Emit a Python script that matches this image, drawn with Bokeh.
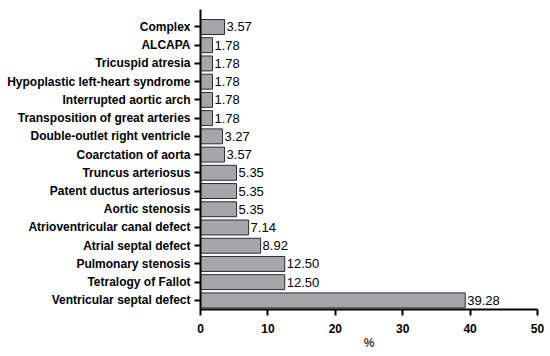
from bokeh.plotting import figure
from bokeh.models import ColumnDataSource, FixedTicker, Range1d, LabelSet
from bokeh.core.properties import value
from bokeh.embed import file_html
from bokeh.resources import INLINE

categories = [
    "Ventricular septal defect",
    "Tetralogy of Fallot",
    "Pulmonary stenosis",
    "Atrial septal defect",
    "Atrioventricular canal defect",
    "Aortic stenosis",
    "Patent ductus arteriosus",
    "Truncus arteriosus",
    "Coarctation of aorta",
    "Double-outlet right ventricle",
    "Transposition of great arteries",
    "Interrupted aortic arch",
    "Hypoplastic left-heart syndrome",
    "Tricuspid atresia",
    "ALCAPA",
    "Complex",
]
values = [39.28, 12.50, 12.50, 8.92, 7.14, 5.35, 5.35, 5.35, 3.57, 3.27,
          1.78, 1.78, 1.78, 1.78, 1.78, 3.57]
x_ticks = [0, 10, 20, 30, 40, 50]

pos = list(range(len(categories)))
src = ColumnDataSource(dict(
    y=pos, v=values, cat=categories,
    lab=[f"{v:.2f}" for v in values],
))

p = figure(width=546, height=356, output_backend="svg", toolbar_location=None,
           x_range=Range1d(0, 50), y_range=Range1d(-0.5, 15.96),
           min_border_left=200, min_border_top=9, min_border_right=9,
           min_border_bottom=47)
p.outline_line_color = None
p.grid.grid_line_color = None
p.background_fill_color = "white"
p.border_fill_color = "white"

p.hbar(y="y", right="v", left=0, height=0.82, source=src,
       fill_color="#a6a6aa", line_color="#2b2b2b", line_width=1)

font = "Liberation Sans"
labels = LabelSet(x="v", y="y", text="lab", source=src, x_offset=2,
                  text_font=value(font), text_font_size=value("13px"),
                  text_color="black", text_baseline="middle", text_align="left")
p.add_layout(labels)

p.xaxis.ticker = FixedTicker(ticks=x_ticks)
p.xaxis.axis_label = "%"
p.xaxis.axis_label_text_font = font
p.xaxis.axis_label_text_font_style = "bold"
p.xaxis.axis_label_text_font_size = "12px"
p.xaxis.axis_label_standoff = 0
p.yaxis.ticker = FixedTicker(ticks=pos)
p.yaxis.major_label_overrides = {i: c for i, c in zip(pos, categories)}

for ax in (p.xaxis, p.yaxis):
    ax.axis_line_width = 2
    ax.axis_line_color = "black"
    ax.major_tick_line_width = 2
    ax.major_tick_line_color = "black"
    ax.major_tick_out = 6
    ax.major_tick_in = 0
    ax.minor_tick_line_color = None
    ax.major_label_text_font = font
    ax.major_label_text_font_style = "bold"
    ax.major_label_text_font_size = "12px"
    ax.major_label_text_color = "black"
p.xaxis.major_label_standoff = 8
p.yaxis.major_label_standoff = 4

open("out.html", "w").write(file_html(p, INLINE))
